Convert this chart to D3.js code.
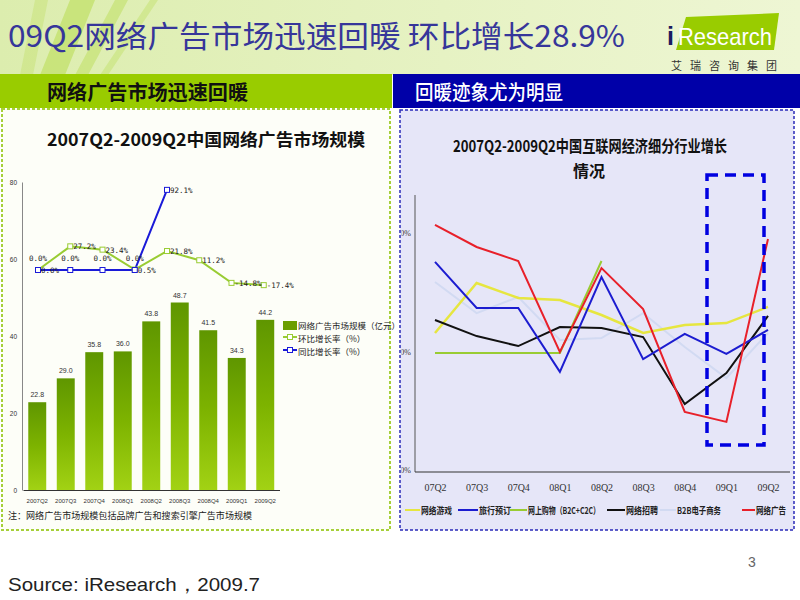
<!DOCTYPE html>
<html><head><meta charset="utf-8">
<script src="https://cdn.jsdelivr.net/npm/d3@7"></script>
<style>
html,body{margin:0;padding:0;background:#fff;}
svg{display:block;font-family:"Noto Sans CJK SC","Noto Sans",sans-serif;}
</style></head>
<body>
<svg id="c" width="800" height="600"></svg>
<script>
// ---------- data ----------
const barCats = ["2007Q2","2007Q3","2007Q4","2008Q1","2008Q2","2008Q3","2008Q4","2009Q1","2009Q2"];
const marketSize = [22.8, 29.0, 35.8, 36.0, 43.8, 48.7, 41.5, 34.3, 44.2];
const qoqGrowth = [0.0, 27.2, 23.4, 0.5, 21.8, 11.2, -14.8, -17.4];
const yoyGrowth = [0.0, 0.0, 0.0, 0.0, 92.1];
const leftYTicks = [0, 20, 40, 60, 80];
const leftLegend = ["网络广告市场规模（亿元）", "环比增长率（%）", "同比增长率（%）"];

const rightCats = ["07Q2","07Q3","07Q4","08Q1","08Q2","08Q3","08Q4","09Q1","09Q2"];
const rightYTicks = [0, 50, 100];
const rightYLabels = ["0%", "50%", "100%"];
const seriesNames = ["网络游戏","旅行预订","网上购物（B2C+C2C）","网络招聘","B2B电子商务","网络广告"];
const onlineGame  = [57.8, 78.9, 72.6, 71.7, 65.4, 57.8, 61.2, 62.0, 68.8];
const travel      = [87.8, 68.4, 68.4, 41.4, 81.4, 46.8, 57.4, 49.0, 59.1];
const shopping    = [49.4, 49.4, 49.4, 49.4, 88.2];
const recruit     = [63.3, 56.5, 52.3, 60.3, 59.9, 56.1, 27.8, 40.9, 65.0];
const b2b         = [79.3, 66.2, 73.0, 54.9, 55.7, 66.2, 51.9, 38.8, 57.8];
const onlineAd    = [103.4, 94.1, 88.2, 49.8, 85.2, 67.9, 24.5, 20.3, 97.5];
const seriesColors = ["#e6e640","#1c1cd0","#99cc33","#111111","#d2daf2","#e8202a"];

const svg = d3.select("#c");
const defs = svg.append("defs");

// ---------- background ----------
const topG = defs.append("linearGradient").attr("id","topg").attr("x1",0).attr("x2",1).attr("y1",0).attr("y2",0);
topG.append("stop").attr("offset","0").attr("stop-color","#dcedae");
topG.append("stop").attr("offset","1").attr("stop-color","#eef6d4");
svg.append("rect").attr("x",0).attr("y",0).attr("width",800).attr("height",75).attr("fill","url(#topg)");
const stripes = [[40,75,70,0,95,0,65,75],[75,75,115,0,128,0,88,75],[100,75,150,0,158,0,108,75],[20,75,35,0,48,0,33,75]];
svg.selectAll("polygon.st").data(stripes).join("polygon").attr("class","st")
  .attr("points",d=>`${d[0]},${d[1]} ${d[2]},${d[3]} ${d[4]},${d[5]} ${d[6]},${d[7]}`)
  .attr("fill","#b8dc50").attr("opacity",(d,i)=>[0.55,0.45,0.35,0.3][i]);

// title
svg.append("text").attr("x",8).attr("y",47).attr("fill","#36369a")
  .attr("font-size",30).attr("textLength",617).attr("lengthAdjust","spacingAndGlyphs")
  .text("09Q2网络广告市场迅速回暖 环比增长28.9%");

// logo
svg.append("polygon").attr("points","676,50 686,17 779,13 774,50").attr("fill","#99cc00");
svg.append("text").attr("x",667).attr("y",45).attr("font-size",25).attr("font-family","Liberation Sans, Arial, sans-serif")
  .attr("fill","#1a1a60").attr("font-weight","bold").text("i");
svg.append("text").attr("x",678).attr("y",45).attr("font-size",24).attr("font-family","Liberation Sans, Arial, sans-serif")
  .attr("fill","#fff").attr("textLength",94).attr("lengthAdjust","spacingAndGlyphs").text("Research");
svg.append("text").attr("x",671).attr("y",70).attr("font-size",11).attr("fill","#333")
  .attr("textLength",106).attr("lengthAdjust","spacing").text("艾瑞咨询集团");

// headers
svg.append("rect").attr("x",0).attr("y",74).attr("width",392).attr("height",34).attr("fill","#99cc00");
svg.append("rect").attr("x",393).attr("y",74).attr("width",407).attr("height",34).attr("fill","#0000a8");
svg.append("text").attr("x",47).attr("y",100).attr("font-size",20).attr("font-weight",600).attr("fill","#111")
  .attr("textLength",201).attr("lengthAdjust","spacingAndGlyphs").text("网络广告市场迅速回暖");
svg.append("text").attr("x",415).attr("y",100).attr("font-size",20).attr("font-weight",500).attr("fill","#fff")
  .attr("textLength",148).attr("lengthAdjust","spacingAndGlyphs").text("回暖迹象尤为明显");

// panels
svg.append("rect").attr("x",2).attr("y",109).attr("width",388).attr("height",421)
  .attr("fill","#fdfef8").attr("stroke","#a6d03a").attr("stroke-width",2).attr("stroke-dasharray","3,2");
svg.append("rect").attr("x",400).attr("y",110).attr("width",394).attr("height",420)
  .attr("fill","#e6e6f8").attr("stroke","#2a2ab8").attr("stroke-width",1.5).attr("stroke-dasharray","3,2");

// ---------- left chart ----------
svg.append("text").attr("x",206).attr("y",146).attr("text-anchor","middle").attr("font-size",17).attr("font-weight","bold")
  .attr("fill","#111").attr("textLength",318).attr("lengthAdjust","spacingAndGlyphs").text("2007Q2-2009Q2中国网络广告市场规模");

const yL = d3.scaleLinear().domain([0,80]).range([490,182]);
const xBar = d3.scaleBand().domain(barCats).range([23,279.5]).paddingInner(0.37).paddingOuter(0.185);
const xLine = d3.scalePoint().domain(barCats).range([38,296]);
const yPct = d3.scaleLinear().domain([0,100]).range([270,183]);

const barG = defs.append("linearGradient").attr("id","barg").attr("x1",0).attr("x2",0).attr("y1",0).attr("y2",1);
barG.append("stop").attr("offset","0").attr("stop-color","#5f9600");
barG.append("stop").attr("offset","0.5").attr("stop-color","#7db300");
barG.append("stop").attr("offset","1").attr("stop-color","#a2d214");

const gLy = svg.append("g").attr("transform","translate(22,0)")
  .call(d3.axisLeft(yL).tickValues(leftYTicks).tickSize(0).tickPadding(5));
gLy.select(".domain").attr("stroke","#888");
gLy.selectAll("text").attr("font-size",6.5).attr("fill","#333").attr("font-family","Liberation Sans, sans-serif");

svg.selectAll("rect.bar").data(marketSize).join("rect").attr("class","bar")
  .attr("x",(d,i)=>xBar(barCats[i])).attr("width",xBar.bandwidth())
  .attr("y",d=>yL(d)).attr("height",d=>yL(0)-yL(d)).attr("fill","url(#barg)");
svg.selectAll("text.bv").data(marketSize).join("text").attr("class","bv")
  .attr("x",(d,i)=>xBar(barCats[i])+xBar.bandwidth()/2).attr("y",d=>yL(d)-5)
  .attr("text-anchor","middle").attr("font-size",7).attr("fill","#333").attr("font-family","Liberation Sans, sans-serif")
  .text(d=>d.toFixed(1));

const gLx = svg.append("g").attr("transform","translate(0,490)")
  .call(d3.axisBottom(xBar).tickSize(0).tickPadding(9));
gLx.select(".domain").attr("stroke","#333").attr("stroke-width",1.2);
gLx.selectAll("text").attr("font-size",6).attr("fill","#333").attr("font-family","Liberation Sans, sans-serif");

const lineL = d3.line().x((d,i)=>xLine(barCats[i])).y(d=>yPct(d));
svg.append("path").datum(qoqGrowth).attr("d",lineL).attr("fill","none").attr("stroke","#99cc33").attr("stroke-width",2);
svg.append("path").datum(yoyGrowth).attr("d",lineL).attr("fill","none").attr("stroke","#1a1ad8").attr("stroke-width",2);
svg.selectAll("rect.mq").data(qoqGrowth).join("rect").attr("class","mq")
  .attr("x",(d,i)=>xLine(barCats[i])-2.5).attr("y",d=>yPct(d)-2.5).attr("width",5).attr("height",5)
  .attr("fill","#fff").attr("stroke","#99cc33").attr("stroke-width",1);
svg.selectAll("rect.my").data(yoyGrowth).join("rect").attr("class","my")
  .attr("x",(d,i)=>xLine(barCats[i])-2.5).attr("y",d=>yPct(d)-2.5).attr("width",5).attr("height",5)
  .attr("fill","#fff").attr("stroke","#1a1ad8").attr("stroke-width",1);
const lblFont = "DejaVu Sans Mono, Liberation Mono, monospace";
svg.selectAll("text.lq").data(qoqGrowth).join("text").attr("class","lq")
  .attr("x",(d,i)=>xLine(barCats[i])+3).attr("y",d=>yPct(d)+3)
  .attr("font-size",7.5).attr("fill","#222").attr("font-family",lblFont)
  .text(d=>d.toFixed(1)+"%");
svg.selectAll("text.ly").data(yoyGrowth).join("text").attr("class","ly")
  .attr("x",(d,i)=>i<yoyGrowth.length-1 ? xLine(barCats[i]) : xLine(barCats[i])+3)
  .attr("y",(d,i)=>i<yoyGrowth.length-1 ? yPct(d)-9 : yPct(d)+3)
  .attr("text-anchor",(d,i)=>i<yoyGrowth.length-1 ? "middle" : "start")
  .attr("font-size",7.5).attr("fill","#222").attr("font-family",lblFont)
  .text(d=>d.toFixed(1)+"%");

const legL = svg.append("g").attr("transform","translate(283,0)");
legL.append("rect").attr("x",0).attr("y",321).attr("width",14).attr("height",9).attr("fill","#6b9e00");
[["#99cc33",337],["#1a1ad8",350]].forEach(([c,y])=>{
  legL.append("line").attr("x1",0).attr("x2",14).attr("y1",y).attr("y2",y).attr("stroke",c).attr("stroke-width",2);
  legL.append("rect").attr("x",4.5).attr("y",y-2.5).attr("width",5).attr("height",5).attr("fill","#fff").attr("stroke",c);
});
legL.selectAll("text").data(leftLegend).join("text").attr("x",15).attr("y",(d,i)=>329+i*13)
  .attr("font-size",8.5).attr("fill","#222").text(d=>d);

svg.append("text").attr("x",8).attr("y",519).attr("font-size",9).attr("fill","#222")
  .attr("textLength",244).attr("lengthAdjust","spacingAndGlyphs").text("注：网络广告市场规模包括品牌广告和搜索引擎广告市场规模");

// ---------- right chart ----------
svg.append("text").attr("x",590).attr("y",152).attr("text-anchor","middle").attr("font-size",16).attr("font-weight","bold")
  .attr("fill","#111").attr("textLength",274).attr("lengthAdjust","spacingAndGlyphs").text("2007Q2-2009Q2中国互联网经济细分行业增长");
svg.append("text").attr("x",589).attr("y",177).attr("text-anchor","middle").attr("font-size",16).attr("font-weight","bold")
  .attr("fill","#111").text("情况");

const xR = d3.scalePoint().domain(rightCats).range([435,768]);
const yR = d3.scaleLinear().domain([0,100]).range([470,233]);

defs.append("clipPath").attr("id","rclip").append("rect").attr("x",401.5).attr("y",110).attr("width",392).attr("height",420);
const gRy = svg.append("g").attr("clip-path","url(#rclip)").append("g").attr("transform","translate(415,0)")
  .call(d3.axisLeft(yR).tickValues(rightYTicks).tickFormat((d,i)=>rightYLabels[i]).tickSize(0).tickPadding(4));
gRy.select(".domain").attr("d","M0,195V472").attr("stroke","#555");
gRy.selectAll("text").attr("font-size",8).attr("fill","#333").attr("font-family","Liberation Serif, serif");

const gRx = svg.append("g").attr("transform","translate(0,472)")
  .call(d3.axisBottom(xR).tickSize(0).tickPadding(12));
gRx.select(".domain").attr("d","M415,0H790").attr("stroke","#333").attr("stroke-width",1.2);
gRx.selectAll("text").attr("font-size",10).attr("fill","#333").attr("font-family","Liberation Serif, serif");

const lineR = d3.line().x((d,i)=>xR(rightCats[i])).y(d=>yR(d));
const allSeries = [onlineGame, travel, shopping, recruit, b2b, onlineAd];
const drawOrder = [4,0,2,3,1,5];
drawOrder.forEach(k=>{
  svg.append("path").datum(allSeries[k]).attr("d",lineR).attr("fill","none")
    .attr("stroke",seriesColors[k]).attr("stroke-width",k===0?2.5:2);
});

svg.append("rect").attr("x",707).attr("y",175).attr("width",57).attr("height",270)
  .attr("fill","none").attr("stroke","#0000e0").attr("stroke-width",3.5).attr("stroke-dasharray","11,7");

// right legend
const legX = [405, 458, 510, 607, 660, 742];
const legW = [15, 20, 17, 18, 16, 13];
const legTL = [31, 32, 72, 32, 44, 30];
const legR = svg.append("g");
seriesNames.forEach((n,i)=>{
  legR.append("line").attr("x1",legX[i]).attr("x2",legX[i]+legW[i]).attr("y1",510).attr("y2",510)
    .attr("stroke",seriesColors[i]).attr("stroke-width",2);
  legR.append("text").attr("x",legX[i]+legW[i]+1).attr("y",514).attr("font-size",9.5).attr("font-weight","bold")
    .attr("fill","#222").attr("textLength",legTL[i]).attr("lengthAdjust","spacingAndGlyphs").text(n);
});

// footer
svg.append("text").attr("x",748).attr("y",567).attr("font-size",14).attr("fill","#666")
  .attr("font-family","Liberation Sans, Arial, sans-serif").text("3");
svg.append("text").attr("x",8).attr("y",591).attr("font-size",19).attr("fill","#222")
  .attr("font-family","Liberation Sans, Arial, sans-serif")
  .attr("textLength",252).attr("lengthAdjust","spacingAndGlyphs").text("Source: iResearch，2009.7");
</script>
</body></html>
